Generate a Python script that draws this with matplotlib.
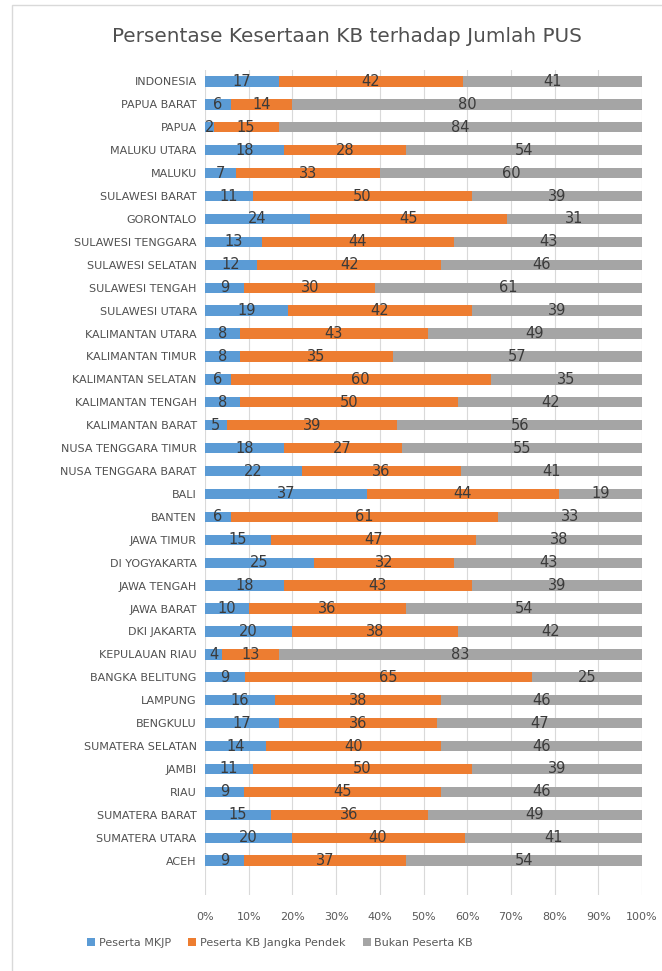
import numpy as np
import matplotlib.pyplot as plt
from matplotlib.patches import Rectangle

# === DATA (top row first) ===
provinsi = ["INDONESIA", "PAPUA BARAT", "PAPUA", "MALUKU UTARA", "MALUKU",
            "SULAWESI BARAT", "GORONTALO", "SULAWESI TENGGARA", "SULAWESI SELATAN",
            "SULAWESI TENGAH", "SULAWESI UTARA", "KALIMANTAN UTARA", "KALIMANTAN TIMUR",
            "KALIMANTAN SELATAN", "KALIMANTAN TENGAH", "KALIMANTAN BARAT",
            "NUSA TENGGARA TIMUR", "NUSA TENGGARA BARAT", "BALI", "BANTEN", "JAWA TIMUR",
            "DI YOGYAKARTA", "JAWA TENGAH", "JAWA BARAT", "DKI JAKARTA", "KEPULAUAN RIAU",
            "BANGKA BELITUNG", "LAMPUNG", "BENGKULU", "SUMATERA SELATAN", "JAMBI", "RIAU",
            "SUMATERA BARAT", "SUMATERA UTARA", "ACEH"]
mkjp = [17, 6, 2, 18, 7, 11, 24, 13, 12, 9, 19, 8, 8, 6, 8, 5, 18, 22, 37, 6, 15,
        25, 18, 10, 20, 4, 9, 16, 17, 14, 11, 9, 15, 20, 9]
jangka_pendek = [42, 14, 15, 28, 33, 50, 45, 44, 42, 30, 42, 43, 35, 60, 50, 39, 27, 36,
                 44, 61, 47, 32, 43, 36, 38, 13, 65, 38, 36, 40, 50, 45, 36, 40, 37]
bukan_kb = [41, 80, 84, 54, 60, 39, 31, 43, 46, 61, 39, 49, 57, 35, 42, 56, 55, 41, 19,
            33, 38, 43, 39, 54, 42, 83, 25, 46, 47, 46, 39, 46, 49, 41, 54]
seri = ["Peserta MKJP", "Peserta KB Jangka Pendek", "Bukan Peserta KB"]
warna = ["#5B9BD5", "#ED7D31", "#A5A5A5"]

# === 100% STACKED ===
vals = np.array([mkjp, jangka_pendek, bukan_kb], dtype=float)
frac = vals / vals.sum(axis=0)
n = len(provinsi)
y = np.arange(n)[::-1]

fig = plt.figure(figsize=(6.62, 9.71), dpi=100)
ax = fig.add_axes([205 / 662, 1 - 895 / 971, 437 / 662, 825 / 971])

left = np.zeros(n)
for k in range(3):
    ax.barh(y, frac[k], left=left, height=0.45, color=warna[k], label=seri[k], zorder=2)
    for i in range(n):
        ax.text(left[i] + frac[k][i] / 2, y[i], str(int(vals[k][i])), ha="center",
                va="center", fontsize=10.5, color="#3a3a3a", zorder=3)
    left += frac[k]

ax.set_xlim(0, 1)
ax.set_ylim(-1.5, n - 0.5)
ax.set_xticks(np.linspace(0, 1, 11))
ax.set_xticklabels([f"{p}%" for p in range(0, 101, 10)], fontsize=8, color="#595959")
ax.set_yticks(y)
ax.set_yticklabels(provinsi, fontsize=8, color="#505050")
ax.tick_params(length=0)
ax.tick_params(axis="x", pad=12)
ax.tick_params(axis="y", pad=6)
ax.grid(axis="x", color="#D9D9D9", lw=0.8, zorder=0)
for s in ax.spines.values():
    s.set_visible(False)

fig.text(347 / 662, 1 - 37 / 971, "Persentase Kesertaan KB terhadap Jumlah PUS",
         ha="center", va="center", fontsize=14.4, color="#505050")

fig.legend(loc="center", bbox_to_anchor=(280 / 662, 1 - 943 / 971), ncol=3, frameon=False,
           fontsize=8, handlelength=0.7, handleheight=0.7, handletextpad=0.3,
           columnspacing=1.6, labelcolor="#595959")

fig.patches.append(Rectangle((12 / 662, -0.01), 700 / 662, 1 - 5 / 971 + 0.01,
                             transform=fig.transFigure, fill=False, ec="#D9D9D9", lw=1))

fig.savefig("out.png", dpi=100)
